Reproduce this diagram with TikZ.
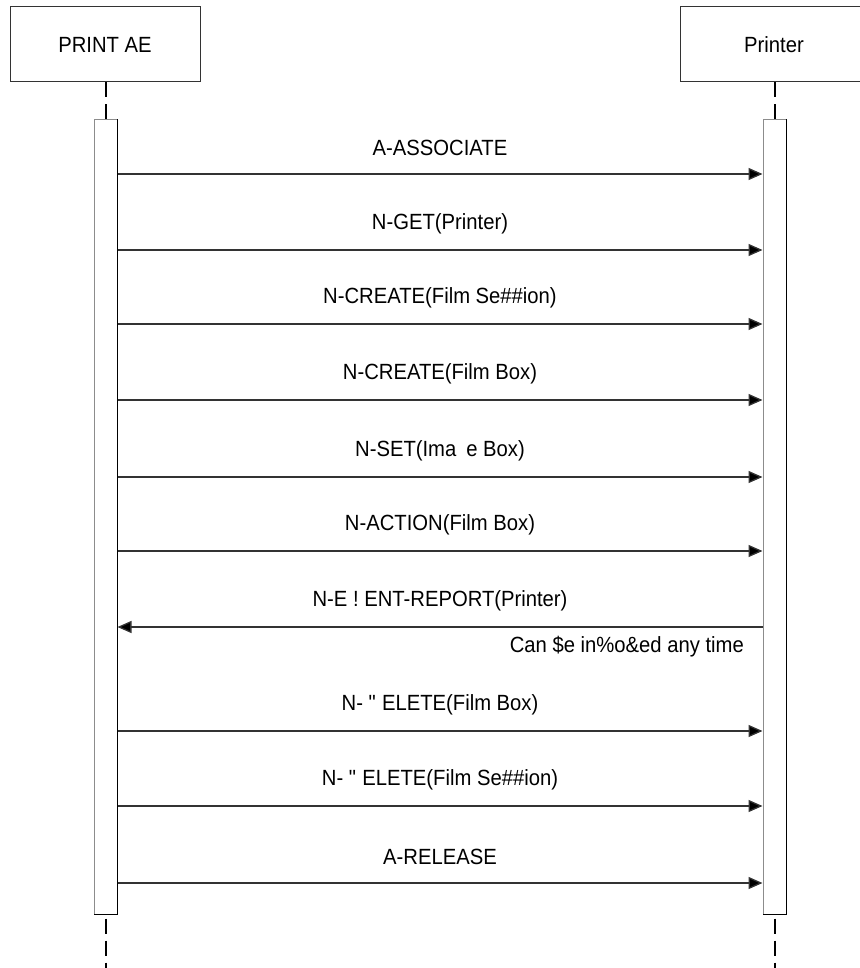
\documentclass[tikz,border=0pt]{standalone}
\usepackage{fontspec}
\setmainfont{Liberation Sans}[FakeStretch=0.92]
\usetikzlibrary{arrows.meta}
\tikzset{
  actor/.style={draw=black!80, line width=1pt, minimum width=190pt, minimum height=75pt, inner sep=0pt, font=\fontsize{22}{26}\selectfont},
  act/.style={draw=black!45, line width=1pt, fill=white, minimum width=23pt, minimum height=794pt, inner sep=0pt},
  actedge/.style={black, line width=1.2pt},
  life/.style={black, line width=2pt, dash pattern=on 15pt off 7pt},
  msg/.style={black!80, line width=1.3pt, -{Triangle[length=14pt,width=12pt,fill=black]}},
  lbl/.style={font=\fontsize{22}{26}\selectfont, inner sep=0pt, text=black},
}
\begin{document}
\begin{tikzpicture}[x=1pt,y=-1pt]
\useasboundingbox (0,0) rectangle (859,968);
\node[actor] (ae) at (105,44.5) {PRINT AE};
\node[actor, minimum width=188pt] (pr) at (774,44.5) {Printer};
\coordinate (aeEnd) at (105.5,968);
\coordinate (prEnd) at (774.5,968);
\draw[life] (ae.south -| aeEnd) -- (aeEnd);
\draw[life] (pr.south -| prEnd) -- (prEnd);
\node[act] (aeA) at (105.5,517) {};
\node[act] (prA) at (774.5,517) {};
\draw[actedge] (aeA.north east) -- (aeA.south east) -- (aeA.south west);
\draw[actedge] (prA.north east) -- (prA.south east) -- (prA.south west);
% messages
\draw[msg] (aeA.east |- 0,174) -- (prA.west |- 0,174) node[lbl, midway, yshift=26pt] {A-ASSOCIATE};
\draw[msg] (aeA.east |- 0,250) -- (prA.west |- 0,250) node[lbl, midway, yshift=26pt] {N-GET(Printer)};
\draw[msg] (aeA.east |- 0,324) -- (prA.west |- 0,324) node[lbl, midway, yshift=26pt] {N-CREATE(Film Se\#\#ion)};
\draw[msg] (aeA.east |- 0,400) -- (prA.west |- 0,400) node[lbl, midway, yshift=26pt] {N-CREATE(Film Box)};
\draw[msg] (aeA.east |- 0,477) -- (prA.west |- 0,477) node[lbl, midway, yshift=26pt] {N-SET(Ima\hspace{10pt}e Box)};
\draw[msg] (aeA.east |- 0,551) -- (prA.west |- 0,551) node[lbl, midway, yshift=26pt] {N-ACTION(Film Box)};
\draw[msg] (prA.west |- 0,627) -- (aeA.east |- 0,627) node[lbl, midway, yshift=26pt] {N-E ! ENT-REPORT(Printer)};
\node[lbl, anchor=east] (note) at (744,647) {Can \$e in\%o\&ed any time};
\draw[msg] (aeA.east |- 0,731) -- (prA.west |- 0,731) node[lbl, midway, yshift=26pt] {N- \textquotedbl{} ELETE(Film Box)};
\draw[msg] (aeA.east |- 0,806) -- (prA.west |- 0,806) node[lbl, midway, yshift=26pt] {N- \textquotedbl{} ELETE(Film Se\#\#ion)};
\draw[msg] (aeA.east |- 0,883) -- (prA.west |- 0,883) node[lbl, midway, yshift=26pt] {A-RELEASE};
\end{tikzpicture}
\end{document}
